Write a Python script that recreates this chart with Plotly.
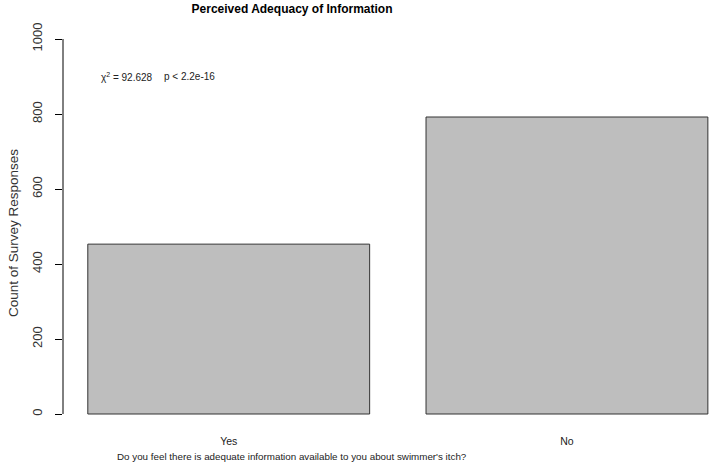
import plotly.graph_objects as go

categories = ["Yes", "No"]
counts = [453, 792]
y_ticks = [0, 200, 400, 600, 800, 1000]

chi_sq = 92.628
p_text = "p < 2.2e-16"

font = "Liberation Sans, Arial, sans-serif"

fig = go.Figure()
fig.add_trace(go.Bar(
    x=categories,
    y=counts,
    width=1 / 1.2,
    marker=dict(color="#bebebe", line=dict(color="#333333", width=1)),
))

fig.update_layout(
    width=709,
    height=465,
    margin=dict(l=63, r=0, t=24, b=36),
    plot_bgcolor="white",
    paper_bgcolor="white",
    showlegend=False,
    title=dict(
        text="<b>Perceived Adequacy of Information</b>",
        x=292 / 709, xanchor="center",
        y=1 - 9 / 465, yanchor="middle",
        font=dict(family=font, size=12, color="black"),
    ),
)

fig.update_xaxes(
    range=[-0.49, 1.42],
    automargin=False,
    showgrid=False, zeroline=False, showline=False, ticks="",
    ticklabelstandoff=4,
    tickfont=dict(family=font, size=10.5, color="#222222"),
)

fig.update_yaxes(
    range=[-40, 1040],
    automargin=False,
    tickvals=y_ticks,
    ticks="outside", ticklen=7, tickcolor="black", tickwidth=1,
    tickangle=-90,
    ticklabelstandoff=8,
    showgrid=False, zeroline=False, showline=False,
    tickfont=dict(family=font, size=13, color="#333333"),
)

# R style axis line spanning only the tick range
fig.add_shape(type="line", xref="paper", yref="y",
              x0=0, x1=0, y0=y_ticks[0], y1=y_ticks[-1],
              line=dict(color="black", width=1))

fig.add_annotation(
    text="Do you feel there is adequate information available to you about swimmer's itch?",
    xref="paper", yref="paper", x=(292 - 63) / 646, y=(429 - 456) / 405,
    showarrow=False, xanchor="center", yanchor="middle",
    font=dict(family=font, size=9.8, color="#222222"),
)
fig.add_annotation(
    text="Count of Survey Responses",
    xref="paper", yref="paper", x=(13 - 63) / 646, y=(429 - 233) / 405,
    showarrow=False, xanchor="center", yanchor="middle", textangle=-90,
    font=dict(family=font, size=13.5, color="#333333"),
)
fig.add_annotation(
    text=f"χ<sup>2</sup> = {chi_sq}",
    xref="paper", yref="y", x=(99 - 63) / 646, y=900,
    showarrow=False, xanchor="left", yanchor="middle",
    font=dict(family=font, size=10, color="#222222"),
)
fig.add_annotation(
    text=p_text,
    xref="paper", yref="y", x=(162 - 63) / 646, y=900,
    showarrow=False, xanchor="left", yanchor="middle",
    font=dict(family=font, size=10, color="#222222"),
)

# drop the default page margin so the figure sits at the window corner
fig.write_html("out.html", config={"displayModeBar": False},
               post_script="document.body.style.margin='0';")
